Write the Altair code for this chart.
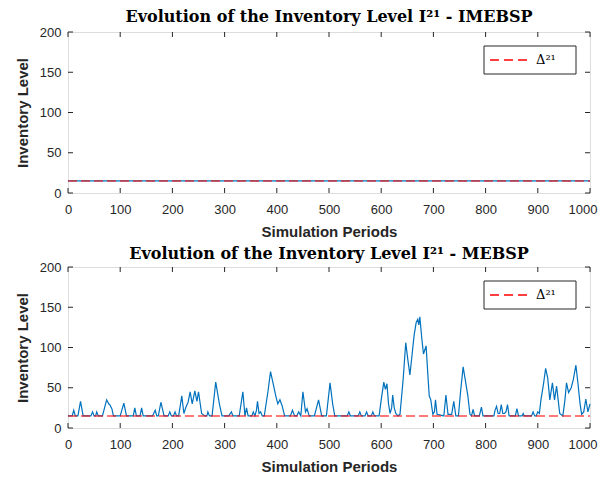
import altair as alt
import pandas as pd

# ---------------- data ----------------
delta_value = 15
top_periods = [0, 1000]
top_levels = [15, 15]

points = [
    (0, 15), (8, 15), (11, 22), (14, 15), (19, 15), (24, 33), (29, 15),
    (44, 15), (47, 20), (50, 15), (53, 15), (55, 20), (58, 15),
    (66, 15), (74, 35), (78, 30), (80, 29), (84, 24), (87, 15),
    (100, 15), (107, 31), (112, 15),
    (125, 15), (128, 25), (131, 15), (138, 15), (141, 25), (144, 15),
    (162, 15), (167, 22), (170, 15), (173, 15), (178, 32), (184, 15),
    (192, 15), (195, 20), (198, 15), (202, 15), (205, 20), (208, 15), (212, 15),
    (218, 40), (222, 18), (226, 26), (230, 32), (234, 45), (238, 30), (243, 46),
    (247, 33), (250, 45), (256, 18), (262, 15), (266, 15), (268, 20), (271, 15),
    (276, 15), (283, 57), (290, 30), (295, 15),
    (308, 15), (313, 20), (316, 15), (328, 15), (335, 45), (339, 15), (342, 25),
    (345, 15), (352, 15), (355, 20), (358, 15), (361, 22), (363, 33), (366, 18),
    (369, 20), (372, 15), (376, 15), (383, 45), (388, 70), (393, 55), (398, 40),
    (402, 30), (406, 35), (410, 28), (415, 15),
    (426, 15), (430, 22), (434, 15), (438, 15), (442, 20), (446, 15), (450, 45),
    (455, 20), (458, 24), (462, 15), (472, 15), (480, 35), (486, 15), (495, 15),
    (502, 56), (507, 30), (511, 15),
    (535, 15), (538, 20), (541, 15), (556, 15), (559, 20), (562, 15), (569, 15),
    (572, 20), (575, 15), (581, 15), (584, 20), (587, 15), (596, 15), (600, 35),
    (605, 57), (608, 48), (611, 55), (614, 30), (617, 18), (620, 25), (622, 41),
    (625, 25), (628, 18), (632, 15), (636, 17), (642, 60), (647, 106), (651, 85),
    (655, 66), (659, 90), (663, 115), (667, 131), (670, 135), (672, 128),
    (674, 138), (678, 110), (681, 92), (686, 102), (689, 70), (692, 40),
    (695, 35), (699, 17), (702, 20), (704, 35), (707, 17), (720, 15), (724, 41),
    (728, 17), (735, 17), (739, 33), (743, 15), (748, 15), (752, 45), (757, 76),
    (761, 60), (763, 52), (766, 40), (770, 17), (773, 15), (776, 23), (779, 15),
    (788, 15), (792, 26), (795, 15),
    (816, 15), (818, 22), (821, 27), (824, 18), (827, 18), (830, 29), (833, 18),
    (836, 18), (839, 20), (842, 29), (845, 15), (857, 15), (860, 24), (863, 15),
    (870, 15), (872, 18), (874, 15), (888, 15), (891, 20), (894, 15), (897, 15),
    (900, 20), (903, 18), (906, 35), (911, 55), (915, 74), (919, 62), (923, 35),
    (928, 56), (932, 35), (936, 52), (942, 18), (948, 15), (952, 35), (955, 56),
    (959, 44), (964, 50), (968, 60), (973, 78), (977, 55), (981, 30), (984, 17),
    (988, 20), (992, 36), (996, 20), (1000, 30),
]
bottom_periods = [p for p, _ in points]
bottom_levels = [v for _, v in points]

x_ticks = list(range(0, 1001, 100))
y_ticks = [0, 50, 100, 150, 200]
legend_label = "Δ²¹"

# ---------------- style ----------------
W, H = 522, 161
BLUE = "#0072BD"
AXC = "#262626"
SANS = "Liberation Sans"
SERIF = "DejaVu Serif"

xscale = alt.Scale(domain=[0, 1000], nice=False)
yscale = alt.Scale(domain=[0, 200], nice=False)

xaxis = alt.Axis(values=x_ticks, format="d", title="Simulation Periods", tickSize=0,
                 domain=False, grid=False, labelPadding=10, labelFont=SANS,
                 labelFontSize=13, labelColor=AXC, titleFont=SANS, titleFontSize=15,
                 titleFontWeight="bold", titleColor=AXC, titlePadding=8, labelFlush=False,
                 labelAlign={"condition": {"test": "datum.value == 1000", "value": "right"},
                             "value": "center"},
                 labelOffset={"condition": {"test": "datum.value == 1000", "value": 7},
                              "value": 0})
yaxis = alt.Axis(values=y_ticks, format="d", title="Inventory Level", tickSize=0,
                 domain=False, grid=False, labelPadding=7, labelFont=SANS,
                 labelFontSize=13, labelColor=AXC, titleFont=SANS, titleFontSize=15,
                 titleFontWeight="bold", titleColor=AXC, titlePadding=9)

one = pd.DataFrame({"k": [0]})


def panel(title, xs, ys, title_offset):
    line_df = pd.DataFrame({"t": xs, "v": ys})
    delta_df = pd.DataFrame({"t": [0, 1000], "v": [delta_value, delta_value]})
    xt_df = pd.DataFrame({"t": x_ticks})
    yt_df = pd.DataFrame({"v": y_ticks})

    X = alt.X("t:Q", scale=xscale, axis=xaxis)
    Y = alt.Y("v:Q", scale=yscale, axis=yaxis)

    line = alt.Chart(line_df).mark_line(color=BLUE, strokeWidth=1.2).encode(x=X, y=Y)
    delta = alt.Chart(delta_df).mark_line(color="#ff0000", strokeDash=[9, 4],
                                          strokeWidth=1.6, opacity=0.7).encode(x=X, y=Y)
    xt_bottom = alt.Chart(xt_df).mark_rule(color=AXC).encode(
        x=X, y=alt.value(H), y2=alt.value(H - 5))
    xt_top = alt.Chart(xt_df).mark_rule(color=AXC).encode(
        x=X, y=alt.value(0), y2=alt.value(5))
    yt_left = alt.Chart(yt_df).mark_rule(color=AXC).encode(
        y=Y, x=alt.value(0), x2=alt.value(5))
    yt_right = alt.Chart(yt_df).mark_rule(color=AXC).encode(
        y=Y, x=alt.value(W - 5), x2=alt.value(W))

    # legend box (top-right, inside the plot)
    leg_box = alt.Chart(one).mark_rect(fill="white", stroke=AXC, strokeWidth=1).encode(
        x=alt.value(W - 106), x2=alt.value(W - 14), y=alt.value(14), y2=alt.value(42))
    leg_line = alt.Chart(one).mark_rule(color="#ff0000", strokeDash=[9, 5],
                                        strokeWidth=1.5).encode(
        x=alt.value(W - 100), x2=alt.value(W - 60), y=alt.value(28))
    leg_text = alt.Chart(one).mark_text(text=legend_label, font=SERIF, fontSize=13,
                                        align="left", baseline="middle",
                                        color="black").encode(
        x=alt.value(W - 54), y=alt.value(28))

    return alt.layer(line, delta, xt_bottom, xt_top, yt_left, yt_right,
                     leg_box, leg_line, leg_text).properties(
        width=W, height=H,
        title=alt.TitleParams(title, font=SERIF, fontSize=16, fontWeight="bold",
                              color="black", anchor="middle", offset=title_offset,
                              frame="group"),
    )


top = panel("Evolution of the Inventory Level I²¹ - IMEBSP", top_periods, top_levels, 1)
bottom = panel("Evolution of the Inventory Level I²¹ - MEBSP", bottom_periods,
               bottom_levels, -1)

chart = alt.vconcat(top, bottom, spacing=5).properties(
    padding={"left": 6, "top": 0, "right": 0, "bottom": 0}
).configure_view(stroke=AXC, strokeWidth=1).configure(background="white")

chart.save("out.html", embed_options={"renderer": "svg", "actions": False})
